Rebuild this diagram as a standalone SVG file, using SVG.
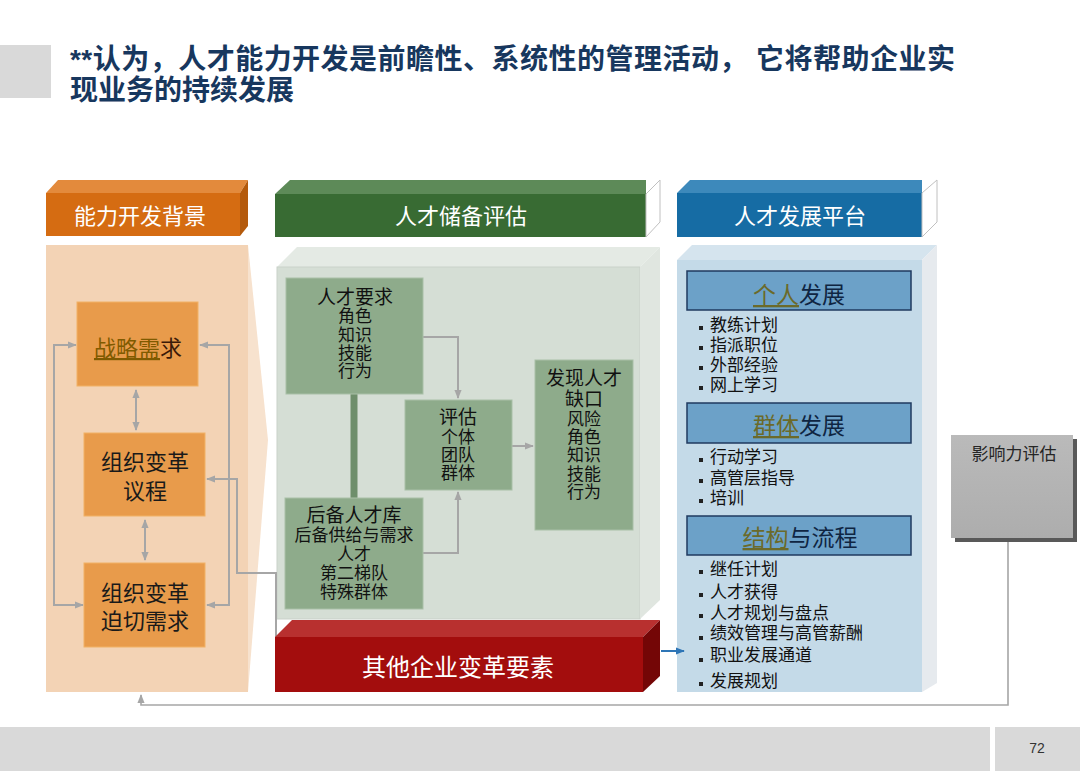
<svg xmlns="http://www.w3.org/2000/svg" width="1080" height="771" viewBox="0 0 1080 771">
<defs>
<style>
text{font-family:"Liberation Sans","Noto Sans CJK SC",sans-serif}
.ttl{font-size:28px;font-weight:bold;fill:#17375e}
.hd{font-size:22px;fill:#ffffff;text-anchor:middle}
.on{font-size:22px;fill:#1a1a1a;text-anchor:middle}
.gn{font-size:17px;fill:#111;text-anchor:middle}
.gnb{font-size:19px;fill:#111;text-anchor:middle}
.bh{font-size:23px;fill:#0f2542;text-anchor:middle}
.bl{font-size:17px;fill:#111}
.ul{text-decoration:underline}
.con{fill:none;stroke:#a6a6a6;stroke-width:2}
.onode{fill:#e89b4b;stroke:#f2b266;stroke-width:1}
.gnode{fill:#8eab8b;stroke:#a9bfa7;stroke-width:1}
.bhead{fill:#6ca1c8;stroke:#1f3a5f;stroke-width:1.5}
</style>
<marker id="ag" viewBox="0 0 10 10" refX="9" refY="5" markerWidth="9" markerHeight="9" markerUnits="userSpaceOnUse" orient="auto-start-reverse"><path d="M0,1 L10,5 L0,9 z" fill="#a6a6a6"/></marker>
<marker id="ab" viewBox="0 0 10 10" refX="9" refY="5" markerWidth="9" markerHeight="9" markerUnits="userSpaceOnUse" orient="auto"><path d="M0,1 L10,5 L0,9 z" fill="#2e75b6"/></marker>
<linearGradient id="gimp" x1="0" y1="0" x2="0" y2="1"><stop offset="0" stop-color="#bababa"/><stop offset="1" stop-color="#adadad"/></linearGradient>
</defs>

<!-- title -->
<rect x="0" y="45" width="51" height="53" fill="#d9d9d9"/>
<text class="ttl" x="70" y="69" textLength="885" lengthAdjust="spacing">**认为，人才能力开发是前瞻性、系统性的管理活动， 它将帮助企业实</text>
<text class="ttl" x="70" y="100">现业务的持续发展</text>

<!-- panels -->
<g id="panel-left">
<polygon points="248,245 268,440 248,692" fill="#f7e2ce"/>
<rect x="46" y="245" width="202" height="447" fill="#f3d3b5"/>
</g>
<g id="panel-green">
<polygon points="277,267 297,247 660,247 640,267" fill="#e4eae4"/>
<rect x="277" y="267" width="363" height="352" fill="#d5ded5" stroke="#c9d1c9"/>
<polygon points="640,267 660,247 660,600 640,619" fill="#e0e6e0"/>
</g>
<g id="panel-blue">
<polygon points="677,260 692,245 937,245 922,260" fill="#d5e4ee"/>
<rect x="677" y="260" width="245" height="432" fill="#c4dae8"/>
<polygon points="922,260 937,245 937,683 922,692" fill="#e6eaee"/>
</g>

<!-- headers -->
<g id="header-orange">
<polygon points="46,193 58,180 248,180 240,193" fill="#e38a3c"/>
<rect x="46" y="193" width="194" height="43" fill="#d56c12"/>
<polygon points="240,193 248,180 248,226 240,236" fill="#b45a0c"/>
<text class="hd" x="140" y="224">能力开发背景</text>
</g>
<g id="header-green">
<polygon points="275,194 290,180 646,180 646,194" fill="#5d8a58"/>
<rect x="275" y="194" width="371" height="43" fill="#386b33"/>
<polygon points="646,194 660,180 660,222 646,237" fill="#ffffff" stroke="#c0c0c0"/>
<text class="hd" x="461" y="224">人才储备评估</text>
</g>
<g id="header-blue">
<polygon points="677,193 690,180 922,180 922,193" fill="#3d89bb"/>
<rect x="677" y="193" width="245" height="44" fill="#166ca4"/>
<polygon points="922,193 937,180 937,222 922,237" fill="#ffffff" stroke="#c0c0c0"/>
<text class="hd" x="800" y="224">人才发展平台</text>
</g>

<!-- connectors -->
<g id="connectors">
<path class="con" d="M136,390 V430" marker-start="url(#ag)" marker-end="url(#ag)"/>
<path class="con" d="M145,520 V560" marker-start="url(#ag)" marker-end="url(#ag)"/>
<path class="con" d="M76,345 H54 V605 H83" marker-start="url(#ag)" marker-end="url(#ag)"/>
<path class="con" d="M200,345 H229 V605 H207" marker-start="url(#ag)" marker-end="url(#ag)"/>
<path class="con" d="M229,479 H207" marker-end="url(#ag)"/>
<path class="con" d="M276,660 V573 H237 V479 H229"/>
<path class="con" d="M423,337 H458 V398" marker-end="url(#ag)"/>
<path class="con" d="M423,553 H458 V492" marker-end="url(#ag)"/>
<path class="con" d="M512,446 H533" marker-end="url(#ag)"/>
<path d="M354,394 V498" fill="none" stroke="#6e8e6b" stroke-width="7"/>
<path d="M661,651 H684" fill="none" stroke="#2e75b6" stroke-width="2" marker-end="url(#ab)"/>
<path d="M1008,539 V705 H141 V695" fill="none" stroke="#a6a6a6" stroke-width="1.6" marker-end="url(#ag)"/>
</g>

<!-- left nodes -->
<g id="node-strategy">
<rect class="onode" x="77" y="302" width="121" height="84"/>
<text class="on" x="138" y="356"><tspan fill="#7f5a00" class="ul">战略需</tspan><tspan fill="#3a1a08">求</tspan></text>
</g>
<g id="node-agenda">
<rect class="onode" x="84" y="433" width="121" height="83"/>
<text class="on" x="145" y="470">组织变革</text>
<text class="on" x="145" y="499">议程</text>
</g>
<g id="node-urgent">
<rect class="onode" x="84" y="563" width="121" height="84"/>
<text class="on" x="145" y="601">组织变革</text>
<text class="on" x="145" y="629">迫切需求</text>
</g>

<!-- green nodes -->
<g id="node-req">
<rect class="gnode" x="286" y="278" width="137" height="116"/>
<text class="gnb" x="355" y="304">人才要求</text>
<text class="gn" x="355" y="322">角色</text>
<text class="gn" x="355" y="341">知识</text>
<text class="gn" x="355" y="359">技能</text>
<text class="gn" x="355" y="377">行为</text>
</g>
<g id="node-eval">
<rect class="gnode" x="405" y="400" width="107" height="90"/>
<text class="gnb" x="458" y="424">评估</text>
<text class="gn" x="458" y="443">个体</text>
<text class="gn" x="458" y="461">团队</text>
<text class="gn" x="458" y="479">群体</text>
</g>
<g id="node-gap">
<rect class="gnode" x="535" y="360" width="98" height="170"/>
<text class="gnb" x="584" y="385">发现人才</text>
<text class="gnb" x="584" y="406">缺口</text>
<text class="gn" x="584" y="425">风险</text>
<text class="gn" x="584" y="443">角色</text>
<text class="gn" x="584" y="461">知识</text>
<text class="gn" x="584" y="480">技能</text>
<text class="gn" x="584" y="498">行为</text>
</g>
<g id="node-pool">
<rect class="gnode" x="285" y="498" width="138" height="111"/>
<text class="gnb" x="354" y="522">后备人才库</text>
<text class="gn" x="354" y="541">后备供给与需求</text>
<text class="gn" x="354" y="560">人才</text>
<text class="gn" x="354" y="579">第二梯队</text>
<text class="gn" x="354" y="598">特殊群体</text>
</g>

<!-- red bar -->
<g id="node-other">
<polygon points="275,637 292,620 660,620 643,637" fill="#b8302f"/>
<rect x="275" y="637" width="368" height="55" fill="#a30d0d"/>
<polygon points="643,637 660,620 660,676 643,692" fill="#740606"/>
<text x="458" y="676" font-size="24" fill="#ffffff" text-anchor="middle">其他企业变革要素</text>
</g>

<!-- blue nodes -->
<g id="node-individual">
<rect class="bhead" x="687" y="271" width="224" height="39"/>
<text class="bh" x="799" y="303"><tspan fill="#6b6a2a" class="ul">个人</tspan>发展</text>
<rect x="699" y="326" width="4" height="4" fill="#222"/>
<text class="bl" x="710" y="331">教练计划</text>
<rect x="699" y="346" width="4" height="4" fill="#222"/>
<text class="bl" x="710" y="351">指派职位</text>
<rect x="699" y="366" width="4" height="4" fill="#222"/>
<text class="bl" x="710" y="371">外部经验</text>
<rect x="699" y="386" width="4" height="4" fill="#222"/>
<text class="bl" x="710" y="391">网上学习</text>
</g>
<g id="node-group">
<rect class="bhead" x="687" y="403" width="224" height="40"/>
<text class="bh" x="799" y="434"><tspan fill="#6b6a2a" class="ul">群体</tspan>发展</text>
<rect x="699" y="458" width="4" height="4" fill="#222"/>
<text class="bl" x="710" y="463">行动学习</text>
<rect x="699" y="479" width="4" height="4" fill="#222"/>
<text class="bl" x="710" y="484">高管层指导</text>
<rect x="699" y="499" width="4" height="4" fill="#222"/>
<text class="bl" x="710" y="504">培训</text>
</g>
<g id="node-structure">
<rect class="bhead" x="687" y="516" width="224" height="39"/>
<text class="bh" x="800" y="546"><tspan fill="#6b6a2a" class="ul">结构</tspan>与流程</text>
<rect x="699" y="570" width="4" height="4" fill="#222"/>
<text class="bl" x="710" y="575">继任计划</text>
<rect x="699" y="593" width="4" height="4" fill="#222"/>
<text class="bl" x="710" y="598">人才获得</text>
<rect x="699" y="614" width="4" height="4" fill="#222"/>
<text class="bl" x="710" y="619">人才规划与盘点</text>
<rect x="699" y="636" width="4" height="4" fill="#222"/>
<text class="bl" x="710" y="639">绩效管理与高管薪酬</text>
<rect x="699" y="658" width="4" height="4" fill="#222"/>
<text class="bl" x="710" y="661">职业发展通道</text>
<rect x="699" y="682" width="4" height="4" fill="#222"/>
<text class="bl" x="710" y="687">发展规划</text>
</g>

<!-- impact -->
<g id="node-impact">
<rect x="955" y="439" width="122" height="103" fill="#595959"/>
<rect x="951" y="435" width="122" height="103" fill="url(#gimp)"/>
<text x="1014" y="460" font-size="17" fill="#262626" text-anchor="middle">影响力评估</text>
</g>

<!-- footer -->
<rect x="0" y="727" width="990" height="44" fill="#d9d9d9"/>
<rect x="995" y="727" width="85" height="44" fill="#d9d9d9"/>
<text x="1037" y="753" font-size="14" fill="#333" text-anchor="middle">72</text>
</svg>
